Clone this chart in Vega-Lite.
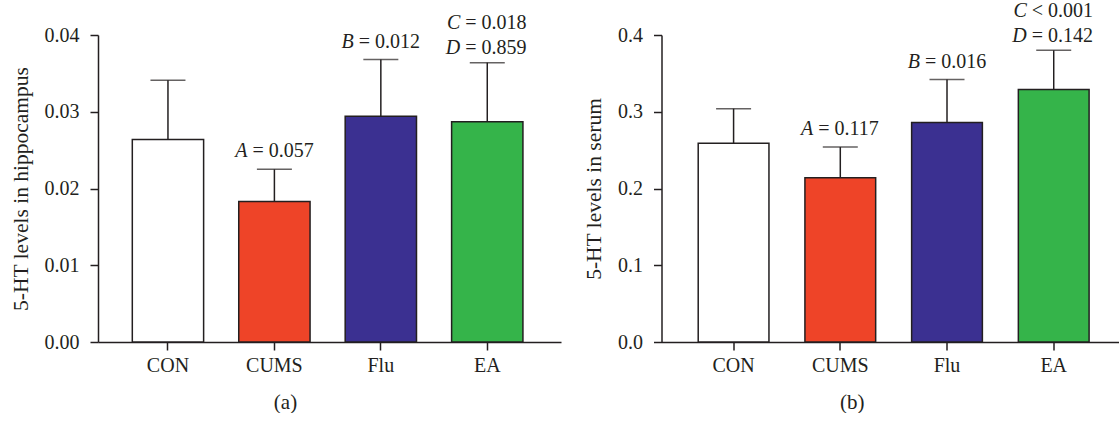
{
  "$schema": "https://vega.github.io/schema/vega-lite/v6.json",
  "background": "white",
  "padding": {"left": 10, "top": 0, "right": 0, "bottom": 0},
  "bounds": "flush",
  "spacing": 100.5,
  "config": {
    "view": {"stroke": null},
    "font": "Liberation Serif",
    "axis": {
      "domainColor": "#231F20", "domainWidth": 1.5,
      "tickColor": "#231F20", "tickWidth": 1.5, "tickSize": 8,
      "labelFont": "Liberation Serif", "labelFontSize": 20, "labelColor": "#231F20",
      "titleFont": "Liberation Serif", "titleFontSize": 21.5, "titleFontWeight": "normal", "titleColor": "#231F20",
      "grid": false
    },
    "title": {"font": "Liberation Serif", "fontSize": 21, "fontWeight": "normal", "color": "#231F20", "orient": "bottom", "frame": "bounds", "anchor": "middle", "offset": 17}
  },
  "hconcat": [
    {
      "title": {"text": "(a)"},
      "width": 463,
      "height": 307,
      "data": {"values": [
        {"group": "CON", "mean": 0.0264, "err": 0.0341, "l1": null, "t1": null, "l2": null, "t2": null},
        {"group": "CUMS", "mean": 0.0183, "err": 0.0225, "l1": "A", "t1": "= 0.057", "l2": null, "t2": null},
        {"group": "Flu", "mean": 0.0294, "err": 0.0368, "l1": "B", "t1": "= 0.012", "l2": null, "t2": null},
        {"group": "EA", "mean": 0.0287, "err": 0.0364, "l1": "D", "t1": "= 0.859", "l2": "C", "t2": "= 0.018"}
      ]},
      "encoding": {
        "x": {"field": "group", "type": "nominal", "sort": ["CON", "CUMS", "Flu", "EA"],
              "scale": {"paddingInner": 0.33, "paddingOuter": 0.34, "align": 0.474},
              "axis": {"title": null, "labelAngle": 0, "labelPadding": 5}}
      },
      "layer": [
        {"mark": {"type": "bar", "stroke": "#231F20", "strokeWidth": 1.5},
         "encoding": {
           "y": {"field": "mean", "type": "quantitative",
                 "scale": {"domain": [0, 0.04], "nice": false},
                 "axis": {"title": "5-HT levels in hippocampus", "values": [0, 0.01, 0.02, 0.03, 0.04], "format": ".2f", "labelPadding": 11, "titlePadding": 12}},
           "fill": {"field": "group", "type": "nominal",
                    "scale": {"domain": ["CON", "CUMS", "Flu", "EA"], "range": ["#FFFFFF", "#EE4428", "#3B3091", "#35B44A"]},
                    "legend": null}
         }},
        {"mark": {"type": "rule", "color": "#231F20", "strokeWidth": 1.5},
         "encoding": {"y": {"field": "mean", "type": "quantitative"}, "y2": {"field": "err"}}},
        {"mark": {"type": "tick", "color": "#231F20", "size": 35, "thickness": 1.5},
         "encoding": {"y": {"field": "err", "type": "quantitative"}}},
        {"transform": [{"filter": "datum.l1 != null && datum.l2 == null"}],
         "mark": {"type": "text", "align": "right", "baseline": "alphabetic", "dx": -27, "dy": -12, "fontSize": 20, "fontStyle": "italic", "color": "#231F20"},
         "encoding": {"y": {"field": "err", "type": "quantitative"}, "text": {"field": "l1"}}},
        {"transform": [{"filter": "datum.l1 != null && datum.l2 == null"}],
         "mark": {"type": "text", "align": "left", "baseline": "alphabetic", "dx": -22, "dy": -12, "fontSize": 20, "color": "#231F20"},
         "encoding": {"y": {"field": "err", "type": "quantitative"}, "text": {"field": "t1"}}},
        {"transform": [{"filter": "datum.l2 != null"}],
         "mark": {"type": "text", "align": "right", "baseline": "alphabetic", "dx": -27, "dy": -9, "fontSize": 20, "fontStyle": "italic", "color": "#231F20"},
         "encoding": {"y": {"field": "err", "type": "quantitative"}, "text": {"field": "l1"}}},
        {"transform": [{"filter": "datum.l2 != null"}],
         "mark": {"type": "text", "align": "left", "baseline": "alphabetic", "dx": -22, "dy": -9, "fontSize": 20, "color": "#231F20"},
         "encoding": {"y": {"field": "err", "type": "quantitative"}, "text": {"field": "t1"}}},
        {"transform": [{"filter": "datum.l2 != null"}],
         "mark": {"type": "text", "align": "right", "baseline": "alphabetic", "dx": -27, "dy": -34, "fontSize": 20, "fontStyle": "italic", "color": "#231F20"},
         "encoding": {"y": {"field": "err", "type": "quantitative"}, "text": {"field": "l2"}}},
        {"transform": [{"filter": "datum.l2 != null"}],
         "mark": {"type": "text", "align": "left", "baseline": "alphabetic", "dx": -22, "dy": -34, "fontSize": 20, "color": "#231F20"},
         "encoding": {"y": {"field": "err", "type": "quantitative"}, "text": {"field": "t2"}}}
      ]
    },
    {
      "title": {"text": "(b)"},
      "width": 459.5,
      "height": 307,
      "data": {"values": [
        {"group": "CON", "mean": 0.259, "err": 0.304, "l1": null, "t1": null, "l2": null, "t2": null},
        {"group": "CUMS", "mean": 0.214, "err": 0.254, "l1": "A", "t1": "= 0.117", "l2": null, "t2": null},
        {"group": "Flu", "mean": 0.286, "err": 0.342, "l1": "B", "t1": "= 0.016", "l2": null, "t2": null},
        {"group": "EA", "mean": 0.329, "err": 0.380, "l1": "D", "t1": "= 0.142", "l2": "C", "t2": "< 0.001"}
      ]},
      "encoding": {
        "x": {"field": "group", "type": "nominal", "sort": ["CON", "CUMS", "Flu", "EA"],
              "scale": {"paddingInner": 0.337, "paddingOuter": 0.3215, "align": 0.535},
              "axis": {"title": null, "labelAngle": 0, "labelPadding": 5}}
      },
      "layer": [
        {"mark": {"type": "bar", "stroke": "#231F20", "strokeWidth": 1.5},
         "encoding": {
           "y": {"field": "mean", "type": "quantitative",
                 "scale": {"domain": [0, 0.4], "nice": false},
                 "axis": {"title": "5-HT levels in serum", "values": [0, 0.1, 0.2, 0.3, 0.4], "format": ".1f", "labelPadding": 11, "titlePadding": 12}},
           "fill": {"field": "group", "type": "nominal",
                    "scale": {"domain": ["CON", "CUMS", "Flu", "EA"], "range": ["#FFFFFF", "#EE4428", "#3B3091", "#35B44A"]},
                    "legend": null}
         }},
        {"mark": {"type": "rule", "color": "#231F20", "strokeWidth": 1.5},
         "encoding": {"y": {"field": "mean", "type": "quantitative"}, "y2": {"field": "err"}}},
        {"mark": {"type": "tick", "color": "#231F20", "size": 35, "thickness": 1.5},
         "encoding": {"y": {"field": "err", "type": "quantitative"}}},
        {"transform": [{"filter": "datum.l1 != null && datum.l2 == null"}],
         "mark": {"type": "text", "align": "right", "baseline": "alphabetic", "dx": -27, "dy": -12, "fontSize": 20, "fontStyle": "italic", "color": "#231F20"},
         "encoding": {"y": {"field": "err", "type": "quantitative"}, "text": {"field": "l1"}}},
        {"transform": [{"filter": "datum.l1 != null && datum.l2 == null"}],
         "mark": {"type": "text", "align": "left", "baseline": "alphabetic", "dx": -22, "dy": -12, "fontSize": 20, "color": "#231F20"},
         "encoding": {"y": {"field": "err", "type": "quantitative"}, "text": {"field": "t1"}}},
        {"transform": [{"filter": "datum.l2 != null"}],
         "mark": {"type": "text", "align": "right", "baseline": "alphabetic", "dx": -27, "dy": -8, "fontSize": 20, "fontStyle": "italic", "color": "#231F20"},
         "encoding": {"y": {"field": "err", "type": "quantitative"}, "text": {"field": "l1"}}},
        {"transform": [{"filter": "datum.l2 != null"}],
         "mark": {"type": "text", "align": "left", "baseline": "alphabetic", "dx": -22, "dy": -8, "fontSize": 20, "color": "#231F20"},
         "encoding": {"y": {"field": "err", "type": "quantitative"}, "text": {"field": "t1"}}},
        {"transform": [{"filter": "datum.l2 != null"}],
         "mark": {"type": "text", "align": "right", "baseline": "alphabetic", "dx": -27, "dy": -33.5, "fontSize": 20, "fontStyle": "italic", "color": "#231F20"},
         "encoding": {"y": {"field": "err", "type": "quantitative"}, "text": {"field": "l2"}}},
        {"transform": [{"filter": "datum.l2 != null"}],
         "mark": {"type": "text", "align": "left", "baseline": "alphabetic", "dx": -22, "dy": -33.5, "fontSize": 20, "color": "#231F20"},
         "encoding": {"y": {"field": "err", "type": "quantitative"}, "text": {"field": "t2"}}}
      ]
    }
  ]
}
